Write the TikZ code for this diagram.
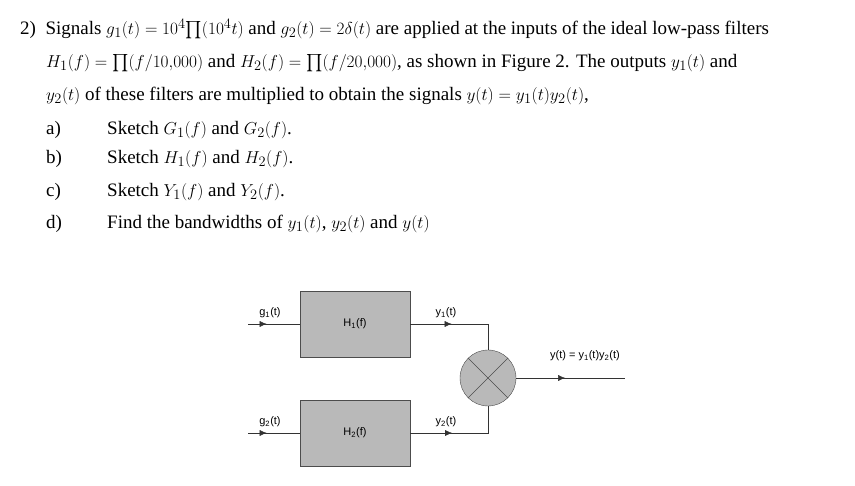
\documentclass[tikz,border=0pt]{standalone}
\usepackage{amsmath}
\usepackage{fontspec}
\setmainfont{Liberation Serif}
\setsansfont{Liberation Sans}
\usetikzlibrary{arrows.meta, decorations.markings, calc}
\tikzset{
	txt/.style={anchor=west, inner sep=0pt, font=\fontsize{19}{21}\selectfont},
	lbl/.style={inner sep=0pt, font=\sffamily\fontsize{11}{13}\selectfont},
	filt/.style={draw=black!70, fill=gray!55, minimum width=110pt, minimum height=66pt, inner sep=0pt},
	sig/.style={draw=black!80, postaction={decorate}, decoration={markings, mark=at position #1 with {\arrow{Latex[length=7pt,width=6pt]}}}},
	sig/.default=0.5
}
\begin{document}
\begin{tikzpicture}[x=1pt, y=-1pt]
	\useasboundingbox (0,0) rectangle (855,486);

	% question text
	\node[txt] (q0) at (20,29) {2)\ \ Signals $g_1(t)=10^4{\prod}(10^4t)$ and $g_2(t)=2\delta(t)$ are applied at the inputs of the ideal low-pass filters};
	\node[txt] (q1) at (46,63) {$H_1(f)={\prod}(f/10{,}000)$ and $H_2(f)={\prod}(f/20{,}000)$, as shown in Figure 2. The outputs $y_1(t)$ and};
	\node[txt] (q2) at (46,96) {$y_2(t)$ of these filters are multiplied to obtain the signals $y(t)=y_1(t)y_2(t)$,};
	\node[txt] (qa) at (46,130) {a)};
	\node[txt] (ta) at (107,130) {Sketch $G_1(f)$ and $G_2(f)$.};
	\node[txt] (qb) at (46,159) {b)};
	\node[txt] (tb) at (107,159) {Sketch $H_1(f)$ and $H_2(f)$.};
	\node[txt] (qc) at (46,192) {c)};
	\node[txt] (tc) at (107,192) {Sketch $Y_1(f)$ and $Y_2(f)$.};
	\node[txt] (qd) at (46,224) {d)};
	\node[txt] (td) at (107,224) {Find the bandwidths of $y_1(t)$, $y_2(t)$ and $y(t)$};

	% block diagram
	\node[filt] (H1) at (355,324) {};
	\node[lbl] at (355,324) {H\textsubscript{1}(f)};
	\node[filt] (H2) at (355,433) {};
	\node[lbl] at (355,433) {H\textsubscript{2}(f)};
	\node[circle, draw=black!70, fill=gray!55, minimum size=56pt, inner sep=0pt] (mix) at (488,378) {};
	\draw[black!70] (mix.north west) -- (mix.south east) (mix.north east) -- (mix.south west);

	\coordinate (in1) at (248,324);
	\coordinate (in2) at (248,433);
	\coordinate (out) at (625,378);

	\draw[sig=0.36] (in1) -- (H1.west);
	\draw[sig=0.36] (in2) -- (H2.west);
	\draw[sig=0.4] (H1.east) -- (H1.east -| mix.north) -- (mix.north);
	\draw[sig=0.4] (H2.east) -- (H2.east -| mix.south) -- (mix.south);
	\draw[sig=0.45] (mix.east) -- (out);

	\node[lbl] (g1) at (270,313) {g\textsubscript{1}(t)};
	\node[lbl] (g2) at (270,422) {g\textsubscript{2}(t)};
	\node[lbl] (y1) at (446,313) {y\textsubscript{1}(t)};
	\node[lbl] (y2) at (446,422) {y\textsubscript{2}(t)};
	\node[lbl] (yo) at (585,356) {y(t) = y\textsubscript{1}(t)y\textsubscript{2}(t)};
\end{tikzpicture}
\end{document}
